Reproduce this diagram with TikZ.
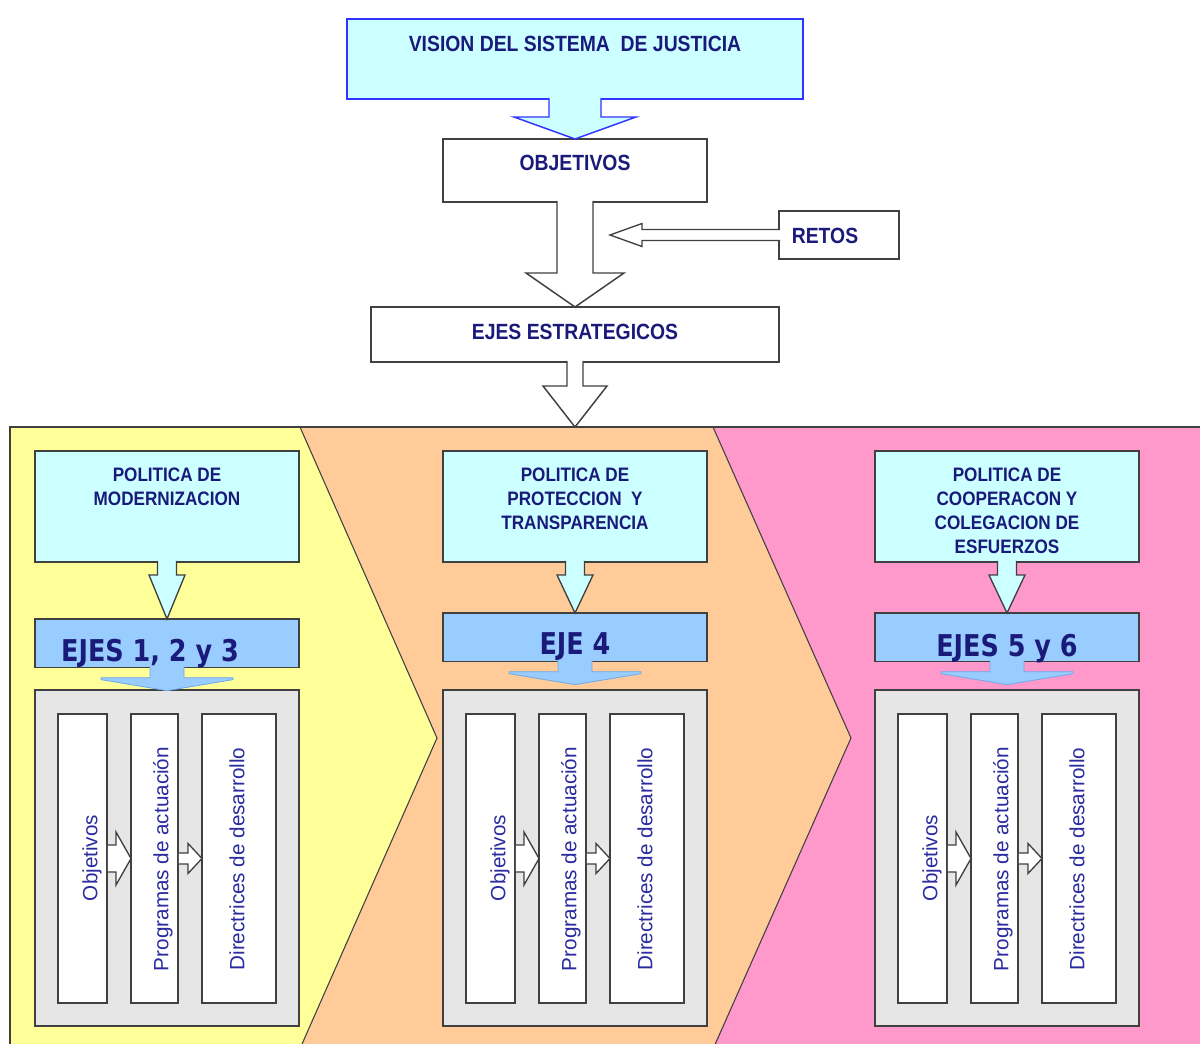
\documentclass[tikz,border=0pt]{standalone}
\usepackage{fontspec}
\usetikzlibrary{calc}
\newfontfamily\hdfont[FakeStretch=0.88]{Liberation Sans Bold}
\newfontfamily\ejfont[FakeStretch=0.85]{DejaVu Sans Bold}
\newfontfamily\vtfont{Liberation Sans}
\definecolor{cyanfill}{HTML}{CCFFFF}
\definecolor{ejesfill}{HTML}{99CCFF}
\definecolor{ejesline}{HTML}{6FA8E8}
\definecolor{greyfill}{HTML}{E6E6E6}
\definecolor{bordergray}{HTML}{404040}
\definecolor{visionblue}{HTML}{3333FF}
\definecolor{navytext}{HTML}{1A1A7A}
\definecolor{vtblue}{HTML}{2B2BA0}
\definecolor{yellowbg}{HTML}{FFFF99}
\definecolor{orangebg}{HTML}{FFCC99}
\definecolor{pinkbg}{HTML}{FF99CC}
\tikzset{
 box/.style={draw=bordergray, line width=1.1pt, inner sep=0pt, outer sep=0pt, anchor=north west},
 hd/.style={font=\hdfont\fontsize{16.5}{18}\selectfont, text=navytext, inner sep=0pt},
 poltext/.style={font=\hdfont\fontsize{14.6}{18}\selectfont, text=navytext, align=center, inner sep=0pt},
 ejtext/.style={font=\ejfont\fontsize{22.5}{24}\selectfont, text=navytext, inner sep=0pt, text depth=0pt},
 vt/.style={font=\vtfont\fontsize{15.5}{18}\selectfont, text=vtblue, inner sep=0pt, rotate=90},
 arrwhite/.style={fill=white, draw=bordergray, line width=1pt, line join=miter},
 arrvision/.style={fill=cyanfill, draw=visionblue, line width=1.1pt, line join=miter},
 arrcyan/.style={fill=cyanfill, draw=bordergray, line width=1pt, line join=miter},
 arrblue/.style={fill=ejesfill, draw=ejesline, line width=0.6pt, line join=miter},
 bgline/.style={draw=bordergray, line width=0.8pt},
}
% #1 X left, #2 id, #3 ejes box top y, #4 pol text y, #5 pol text, #6 ejes text x, #7 ejes text y, #8 ejes text
\newcommand\drawcol[8]{%
 \node[box, fill=cyanfill, minimum width=198pt, minimum height=83.25pt] (pol#2) at (#1,451) {};
 \node[poltext] (polt#2) at (#1+132,#4) {#5};
 \node[box, fill=ejesfill, minimum width=198pt, minimum height=36.5pt] (eje#2) at (#1,#3) {};
 \node[ejtext] (ejet#2) at (#6,#7) {#8};
 \node[box, fill=greyfill, minimum width=198pt, minimum height=252pt] (grey#2) at (#1,690) {};
 \node[box, fill=white, minimum width=36.75pt, minimum height=216.75pt] (ca#2) at (#1+23,714) {};
 \node[box, fill=white, minimum width=35.25pt, minimum height=216.75pt] (cb#2) at (#1+96,714) {};
 \node[box, fill=white, minimum width=55.5pt, minimum height=216.75pt] (cc#2) at (#1+167,714) {};
 \node[vt] (ta#2) at (#1+57,858) {Objetivos};
 \node[vt] (tb#2) at (#1+128,859) {Programas de actuación};
 \node[vt] (tc#2) at (#1+202,859) {Directrices de desarrollo};
 % politica -> ejes
 \filldraw[arrcyan] ($(pol#2.south)+(-9.5,-1)$) -- ++(0,14) -- ++(-8.5,0) -- (eje#2.north)
   -- ($(pol#2.south)+(18,13)$) -- ++(-8.5,0) -- ++(0,-14);
 % ejes -> grey
 \filldraw[arrblue] ($(eje#2.south)+(-17,-1)$) -- ++(0,11) -- ++(-49,0) -- ++(0,2)
   -- ($(eje#2.south)+(0,23)$) -- ($(eje#2.south)+(66,12)$) -- ++(0,-2) -- ++(-49,0) -- ++(0,-11);
 % inner arrows
 \filldraw[arrwhite] ($(ca#2.east)+(0.8,-13.5)$) -- ++(8.2,0) -- ++(0,-13) -- (cb#2.west)
   -- ($(ca#2.east)+(9,26.5)$) -- ++(0,-13) -- ++(-8.2,0);
 \filldraw[arrwhite] ($(cb#2.east)+(0.8,-5.5)$) -- ++(9.2,0) -- ++(0,-9.5) -- (cc#2.west)
   -- ($(cb#2.east)+(10,15)$) -- ++(0,-9.5) -- ++(-9.2,0);
}
\begin{document}
\begin{tikzpicture}[x=0.75pt,y=-0.75pt]
\useasboundingbox (0,0) rectangle (1200,1044);
\fill[white] (0,0) rectangle (1200,1044);
\begin{scope}
 \clip (0,0) rectangle (1200,1044);
 \fill[pinkbg] (10,427) rectangle (1210,1050);
 \fill[orangebg] (10,427) -- (713,427) -- (851,738) -- (712.6,1050) -- (10,1050) -- cycle;
 \fill[yellowbg] (10,427) -- (300,427) -- (437,738) -- (299.4,1050) -- (10,1050) -- cycle;
 \draw[bgline] (300,427) -- (437,738) -- (299.4,1050);
 \draw[bgline] (713,427) -- (851,738) -- (712.6,1050);
 \draw[bgline] (10,1050) -- (10,427) -- (1210,427);
\end{scope}
\coordinate (regtop) at (575,427);
\coordinate (retip) at (610,235);
% top boxes
\node[box, fill=cyanfill, draw=visionblue, minimum width=342pt, minimum height=60pt] (vision) at (347,19) {};
\node[hd] (visiont) at (575,44) {VISION DEL SISTEMA\ \ DE JUSTICIA};
\node[box, fill=white, minimum width=198pt, minimum height=47.25pt] (obj) at (443,139) {};
\node[hd] (objt) at (575,163) {OBJETIVOS};
\node[box, fill=white, minimum width=90pt, minimum height=36pt] (retos) at (779,211) {};
\node[hd] (retost) at (825,236) {RETOS};
\node[box, fill=white, minimum width=306pt, minimum height=41.25pt] (ejes) at (371,307) {};
\node[hd] (ejest) at (575,332) {EJES ESTRATEGICOS};
% top arrows
\filldraw[arrvision] ($(vision.south)+(-26,-1)$) -- ++(0,19) -- ++(-35,0) -- (obj.north)
  -- ($(vision.south)+(61,18)$) -- ++(-35,0) -- ++(0,-19);
\filldraw[arrwhite, line width=1.1pt] ($(obj.south)+(-18,-1)$) -- ++(0,72) -- ++(-31,0) -- (ejes.north)
  -- ($(obj.south)+(49,71)$) -- ++(-31,0) -- ++(0,-72);
\filldraw[arrwhite, line width=1.1pt] ($(ejes.south)+(-8,-1)$) -- ++(0,25) -- ++(-24,0) -- (regtop)
  -- ($(ejes.south)+(32,24)$) -- ++(-24,0) -- ++(0,-25);
\filldraw[arrwhite] ($(retos.west)+(1,-5.5)$) -- ++(-138,0) -- ++(0,-6) -- (retip)
  -- ($(retos.west)+(-137,11.5)$) -- ++(0,-6) -- ++(138,0);
% columns
\drawcol{35}{1}{619}{487}{POLITICA DE\\MODERNIZACION}{150}{650}{EJES 1, 2 y 3}
\drawcol{443}{2}{613}{498.5}{POLITICA DE\\PROTECCION\ \ Y\\TRANSPARENCIA}{575}{644}{EJE 4}
\drawcol{875}{3}{613}{511}{POLITICA DE\\COOPERACON Y\\COLEGACION DE\\ESFUERZOS}{1007}{645}{EJES 5 y 6}
\end{tikzpicture}
\end{document}
